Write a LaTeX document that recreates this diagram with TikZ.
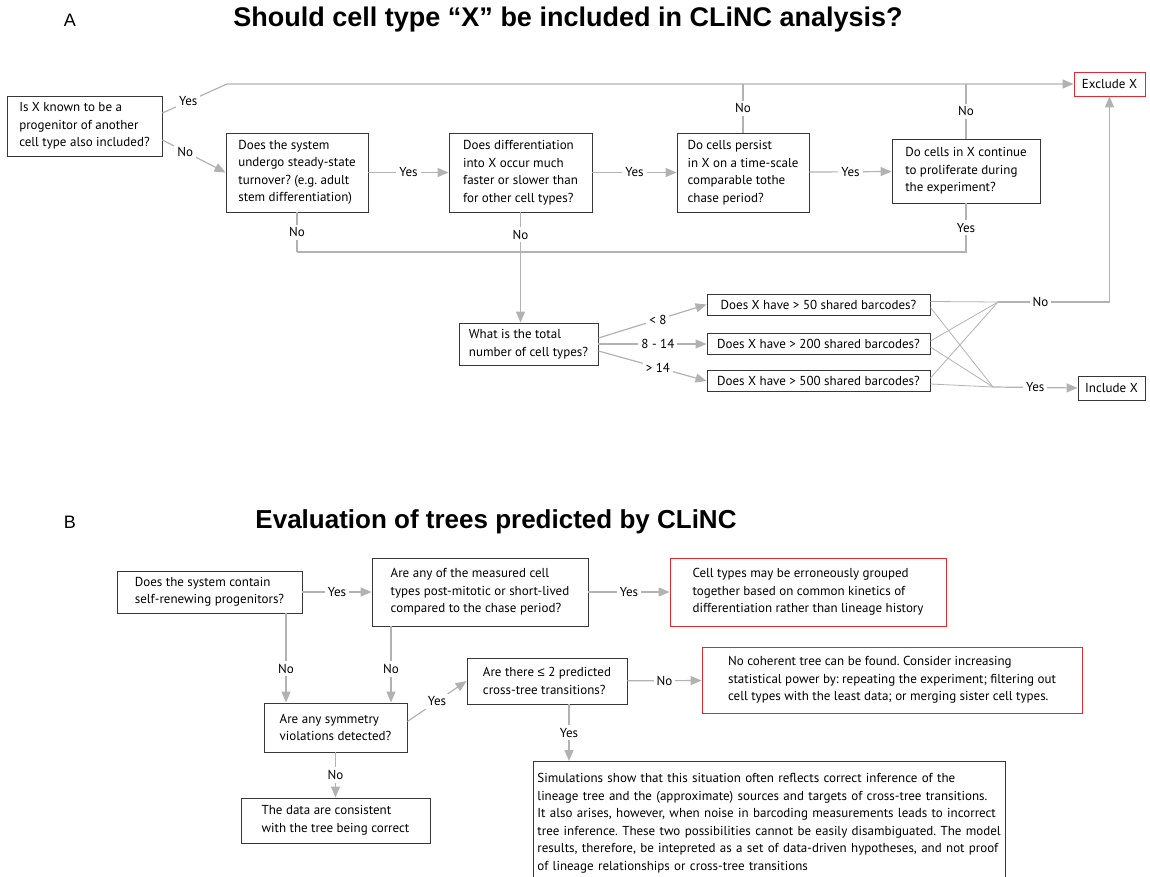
\documentclass[tikz,border=0pt]{standalone}
\usepackage{fontspec}
\setmainfont{PT Sans}
\newfontfamily\headfont{Liberation Sans}
\usepackage{tikz}
\usetikzlibrary{arrows.meta}
\definecolor{linegray}{RGB}{178,178,178}
\definecolor{boxgray}{RGB}{55,55,55}
\definecolor{warnred}{RGB}{230,40,48}
\frenchspacing

\tikzset{
  qbox/.style={draw=boxgray, line width=0.9pt, align=left, inner sep=0pt,
    font=\fontsize{13}{17.5}\selectfont},
  warnbox/.style={qbox, draw=warnred},
  conn/.style={draw=linegray, line width=1.2pt},
  flow/.style={conn, -{Triangle[length=11pt,width=9pt]}},
  lbl/.style={fill=white, inner sep=3pt, text=black, font=\fontsize{13}{15}\selectfont},
  panel/.style={font=\headfont\fontsize{18}{18}\selectfont},
  heading/.style={font=\headfont\bfseries\fontsize{26}{26}\selectfont},
}

\begin{document}
\begin{tikzpicture}[x=1pt, y=-1pt]
  \useasboundingbox (0,0) rectangle (1150,877);

  % Part A: which cell types go in
  \node[panel] (labA) at (70,20) {A};
  \node[heading, font=\headfont\bfseries\fontsize{27}{27}\selectfont] (titleA) at (568,20)
    {Should cell type “X” be included in CLiNC analysis?};

  \node[qbox, minimum width=155, minimum height=60] (known) at (84.5,126)
    {Is X known to be a\\progenitor of another\\cell type also included?};
  \node[qbox, minimum width=142, minimum height=79] (steady) at (297,172.5)
    {Does the system\\undergo steady-state\\turnover? (e.g. adult\\stem differentiation)};
  \node[qbox, minimum width=143, minimum height=79] (diffrate) at (520.5,172.5)
    {Does differentiation\\into X occur much\\faster or slower than\\for other cell types?};
  \node[qbox, minimum width=132, minimum height=79] (persist) at (743,172.5)
    {Do cells persist\\in X on a time-scale\\comparable tothe\\chase period?};
  \node[qbox, minimum width=148, minimum height=64] (prolif) at (966,171)
    {Do cells in X continue\\to proliferate during\\the experiment?};
  \node[warnbox, minimum width=71, minimum height=24] (exclude) at (1109.5,84) {Exclude X};
  \node[qbox, minimum width=139, minimum height=42] (total) at (528.5,344)
    {What is the total\\number of cell types?};
  \node[qbox, minimum width=223, minimum height=21] (bc50) at (818.5,304.5) {Does X have > 50 shared barcodes?};
  \node[qbox, minimum width=223, minimum height=21] (bc200) at (818.5,344) {Does X have > 200 shared barcodes?};
  \node[qbox, minimum width=223, minimum height=21] (bc500) at (818.5,381) {Does X have > 500 shared barcodes?};
  \node[qbox, minimum width=67, minimum height=24] (include) at (1111.5,388) {Include X};

  \coordinate (topknee) at (227,84);
  \coordinate (rejoin) at (297,252);
  \coordinate (nojn) at (998,302);
  \coordinate (yesjn) at (993,387);

  \draw[flow] ([yshift=13]known.east) -- node[lbl, pos=0.4] {Yes} (topknee) -- (exclude.west);
  \draw[flow] ([yshift=-14]known.east) -- node[lbl, pos=0.36] {No} (steady.west);
  \draw[flow] (steady) -- node[lbl] {Yes} (diffrate);
  \draw[flow] (diffrate) -- node[lbl] {Yes} (persist);
  \draw[flow] (persist) -- node[lbl] {Yes} (prolif);
  \draw[conn] (persist.north) -- node[lbl] {No} (persist.north |- topknee);
  \draw[conn] (prolif.north) -- node[lbl] {No} (prolif.north |- topknee);
  \draw[conn] (steady.south) -- node[lbl] {No} (rejoin);
  \draw[conn] (prolif.south) -- node[lbl] {Yes} (prolif.south |- rejoin) -- (rejoin);
  \draw[flow] (diffrate.south) -- node[lbl, pos=0.2] {No} (diffrate.south |- total.north);

  \draw[flow] ([yshift=6]total.east) -- node[lbl, pos=0.55] {< 8} (bc50.west);
  \draw[flow] (total.east) -- node[lbl, pos=0.55] {8 - 14} (bc200.west);
  \draw[flow] ([yshift=-7]total.east) -- node[lbl, pos=0.55] {> 14} (bc500.west);

  \foreach \b in {bc50,bc200,bc500} {
    \draw[conn, line width=0.8pt] ([yshift=3]\b.east) -- (nojn);
    \draw[conn, line width=0.8pt] ([yshift=-3]\b.east) -- (yesjn);
  }
  \draw[flow] (nojn) -- node[lbl, pos=0.38] {No} (exclude.south |- nojn) -- (exclude.south);
  \draw[flow] (yesjn) -- node[lbl] {Yes} (include.west);

  % Part B: checking the trees
  \node[panel] (labB) at (70,522) {B};
  \node[heading] (titleB) at (496,522) {Evaluation of trees predicted by CLiNC};

  \node[qbox, minimum width=185, minimum height=42] (selfrenew) at (209.5,592)
    {Does the system contain\\self-renewing progenitors?};
  \node[qbox, minimum width=216, minimum height=68] (postmit) at (480,592)
    {Are any of the measured cell\\types post-mitotic or short-lived\\compared to the chase period?};
  \node[warnbox, minimum width=276, minimum height=68] (grouped) at (808,592)
    {Cell types may be erroneously grouped\\together based on common kinetics of\\differentiation rather than lineage history};
  \node[qbox, minimum width=143, minimum height=49] (symm) at (335.5,727.5)
    {Are any symmetry\\violations detected?};
  \node[qbox, minimum width=160, minimum height=46] (cross) at (547,681)
    {Are there {\headfont ≤} 2 predicted\\cross-tree transitions?};
  \node[warnbox, minimum width=380, minimum height=66] (nocoh) at (892,680)
    {No coherent tree can be found. Consider increasing\\statistical power by: repeating the experiment; filtering out\\cell types with the least data; or merging sister cell types.};
  \node[qbox, minimum width=189, minimum height=45] (consist) at (335.5,820.5)
    {The data are consistent\\with the tree being correct};
  \node[qbox, text width=464, inner xsep=4pt, minimum height=124, anchor=north west] (sim) at (533,761)
    {Simulations show that this situation often reflects correct inference of the\\
     lineage tree and the (approximate) sources and targets of cross-tree transitions.\\
     It also arises, however, when noise in barcoding measurements leads to incorrect\\
     tree inference. These two possibilities cannot be easily disambiguated. The model\\
     results, therefore, be intepreted as a set of data-driven hypotheses, and not proof\\
     of lineage relationships or cross-tree transitions};

  \coordinate (colL) at (286,0);
  \coordinate (colR) at (391,0);
  \coordinate (colY) at (569,0);

  \draw[flow] (selfrenew) -- node[lbl] {Yes} (postmit);
  \draw[flow] (postmit) -- node[lbl] {Yes} (grouped);
  \draw[flow] (selfrenew.south -| colL) -- node[lbl, pos=0.62] {No} (symm.north -| colL);
  \draw[flow] (postmit.south -| colR) -- node[lbl, pos=0.56] {No} (symm.north -| colR);
  \draw[flow] ([yshift=6]symm.east) -- node[lbl] {Yes} (cross.west);
  \draw[flow] (cross) -- node[lbl] {No} (nocoh);
  \draw[flow] (cross.south -| colY) -- node[lbl] {Yes} (sim.north -| colY);
  \draw[flow] (symm) -- node[lbl] {No} (consist);
\end{tikzpicture}
\end{document}
